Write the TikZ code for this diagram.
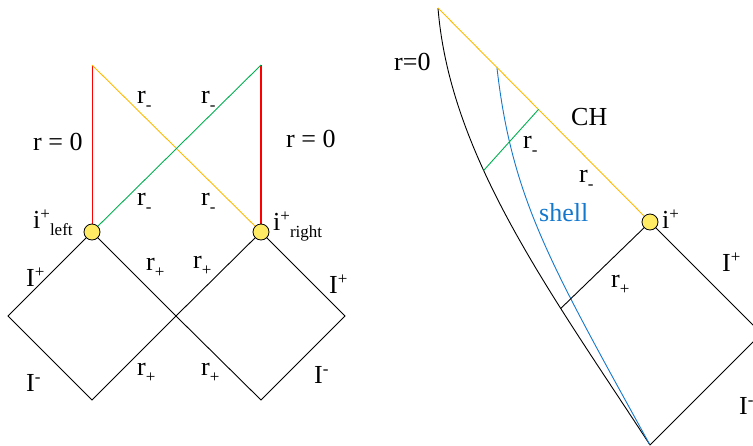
\documentclass[tikz,border=0pt]{standalone}
\usepackage{fontspec}
\usetikzlibrary{calc}
\setmainfont{Liberation Serif}
\newfontfamily\tnr{Liberation Serif}
\definecolor{lnred}{RGB}{255,0,0}
\definecolor{lnorange}{RGB}{255,185,0}
\definecolor{lngreen}{RGB}{0,176,80}
\definecolor{lnblue}{RGB}{20,120,205}
\definecolor{dotyellow}{RGB}{255,236,100}
\newcommand\mysub[1]{\raisebox{-0.27em}{\fontsize{17}{17}\selectfont #1}}
\newcommand\mysup[1]{\raisebox{0.32em}{\fontsize{17}{17}\selectfont #1}}
\begin{document}
\begin{tikzpicture}[x=1pt,y=-1pt,
  edge/.style={line width=0.9pt,black},
  lbl/.style={inner sep=0pt,anchor=base west,font=\tnr\fontsize{26}{30}\selectfont},
  dot/.style={circle,draw=black,line width=0.8pt,fill=dotyellow,minimum size=16pt,inner sep=0pt}]
\useasboundingbox (0,0) rectangle (753,445);
\clip (0,0) rectangle (753,445);
% ---------- left diagram ----------
\coordinate (TL) at (92,65);
\coordinate (TR) at (261,65);
\coordinate (L) at (8,316);
\coordinate (M) at (176,316);
\coordinate (R) at (345,316);
\coordinate (BL) at (92,400);
\coordinate (BR) at (261,400);
\coordinate (PL) at (92,232);
\coordinate (PR) at (261,232);
\draw[lnred,line width=0.9pt] (TL) -- (PL);
\draw[lnred,line width=2pt] (TR) -- (PR);
\draw[lnorange,line width=0.9pt] (TL) -- (PR);
\draw[lngreen,line width=0.9pt] (PL) -- (TR);
\draw[edge] (PL) -- (L) -- (BL) -- (M) -- (PR) -- (R) -- (BR) -- (M) -- cycle;
\node[dot] (il) at (PL) {};
\node[dot] (ir) at (PR) {};
\node[lbl] (rz1) at (33,150) {r = 0};
\node[lbl] (rz2) at (286,147) {r = 0};
\node[lbl] (rm1) at (137,103) {r\mysub{-}};
\node[lbl] (rm2) at (201,103) {r\mysub{-}};
\node[lbl] (rm3) at (137,205) {r\mysub{-}};
\node[lbl] (rm4) at (201,205) {r\mysub{-}};
\node[lbl] (ipl) at (33,228) {i\mysup{+}\mysub{left}};
\node[lbl] (ipr) at (273,230) {i\mysup{+}\mysub{right}};
\node[lbl] (rp1) at (146,270) {r\mysub{+}};
\node[lbl] (rp2) at (193,268) {r\mysub{+}};
\node[lbl] (rp3) at (137,375) {r\mysub{+}};
\node[lbl] (rp4) at (201,375) {r\mysub{+}};
\node[lbl] (Ip1) at (26,286) {I\mysup{+}};
\node[lbl] (Ip2) at (329,293) {I\mysup{+}};
\node[lbl] (Im1) at (26,391) {I\mysup{-}};
\node[lbl] (Im2) at (314,383) {I\mysup{-}};
% ---------- right diagram ----------
\coordinate (A) at (438,8);
\coordinate (B) at (650,445);
\coordinate (IP) at (650,222);
\coordinate (C) at (761.5,333.5);
\coordinate (GE) at ($(A)!0.474!(IP)$);
\coordinate (S0) at ($(A)!0.278!(IP)$);
\draw[edge] (A) .. controls (450,158) and (552.5,295) .. (B)
  coordinate[pos=0.37] (G) coordinate[pos=0.69] (H);
\draw[lnblue,line width=0.9pt] (S0) .. controls (512,200) and (551,265) .. (B);
\draw[lnorange,line width=0.9pt] (A) -- (IP);
\draw[lngreen,line width=0.9pt] (G) -- (GE);
\draw[edge] (H) -- (IP) -- (C) -- (B);
\node[dot] (ip) at (IP) {};
\node[lbl] (rz3) at (394,70) {r=0};
\node[lbl] (ch) at (571,125) {CH};
\node[lbl] (rm5) at (523,148) {r\mysub{-}};
\node[lbl] (rm6) at (579,182) {r\mysub{-}};
\node[lbl,text=lnblue] (sh) at (539,221) {shell};
\node[lbl] (ipt) at (662,228) {i\mysup{+}};
\node[lbl] (Ip3) at (722,271) {I\mysup{+}};
\node[lbl] (rp5) at (611,287) {r\mysub{+}};
\node[lbl] (Im3) at (739,414) {I\mysup{-}};
\end{tikzpicture}
\end{document}
